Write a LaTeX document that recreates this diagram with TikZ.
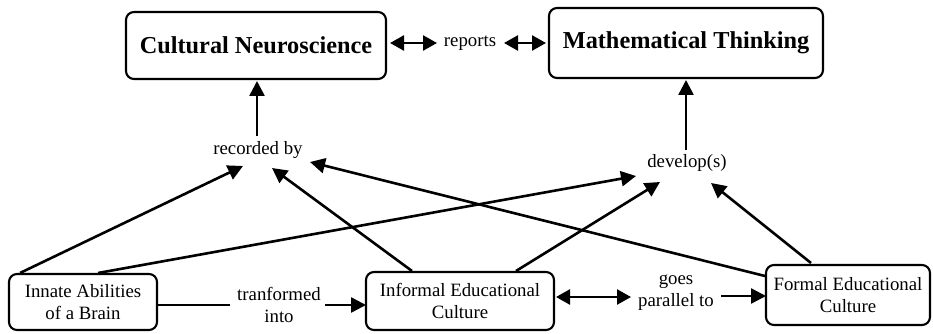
\documentclass[tikz,border=0pt]{standalone}
\usepackage{fontspec}
\setmainfont{Liberation Serif}
\usetikzlibrary{arrows.meta}
\tikzset{
  box/.style={draw, line width=2.1pt, rounded corners=8pt, align=center, inner sep=0pt},
  lbl/.style={align=center, inner sep=1pt, font=\fontsize{18.8}{21.5}\selectfont},
  arr/.style={line width=2.6pt, -{Triangle[length=15pt,width=15pt]}},
  darr/.style={line width=2.6pt, {Triangle[length=14pt,width=15pt]}-{Triangle[length=14pt,width=15pt]}},
  plain/.style={line width=2.6pt}
}
\begin{document}
\begin{tikzpicture}[x=1pt,y=-1pt]
\useasboundingbox (0,0) rectangle (933,334);
% main boxes
\node[box, minimum width=260pt, minimum height=67pt, font=\fontsize{24.3}{28}\selectfont\bfseries] (cn) at (256,45.5) {Cultural Neuroscience};
\node[box, minimum width=274pt, minimum height=70pt, font=\fontsize{24.3}{28}\selectfont\bfseries] (mt) at (686,43) {Mathematical Thinking};
\node[box, minimum width=148pt, minimum height=56pt, font=\fontsize{18.8}{21.5}\selectfont] (innate) at (83,302) {Innate Abilities\\of a Brain};
\node[box, minimum width=188pt, minimum height=58pt, font=\fontsize{18.8}{21.5}\selectfont] (informal) at (460,301) {Informal Educational\\Culture};
\node[box, minimum width=164pt, minimum height=60pt, font=\fontsize{18.8}{21.5}\selectfont] (formal) at (848,295) {Formal Educational\\Culture};
% linking phrases
\node[lbl] (reports) at (470,43) {reports};
\node[lbl] (rec) at (258,150) {recorded by};
\node[lbl] (dev) at (687,163) {develop(s)};
\node[lbl] (trans) at (279,305) {tranformed\\into};
\node[lbl] (par) at (676,292.5) {goes\\parallel to};
% coordinates
\coordinate (cnR) at (390,43);
\coordinate (repL) at (437,43);
\coordinate (repR) at (504,43);
\coordinate (mtL) at (546,43);
\coordinate (recTop) at (257,136);
\coordinate (cnBot) at (257,81);
\coordinate (devTop) at (686,150);
\coordinate (mtBot) at (686,80);
\coordinate (inA) at (20,273);
\coordinate (inB) at (98,273);
\coordinate (ifA) at (412,271);
\coordinate (ifB) at (516,271);
\coordinate (foA) at (765,276);
\coordinate (foB) at (811,263);
\coordinate (rt1) at (243,166);
\coordinate (rt2) at (272,168);
\coordinate (rt3) at (310,162);
\coordinate (dt1) at (636,176);
\coordinate (dt2) at (660,182);
\coordinate (dt3) at (711,183);
\coordinate (innR) at (157,305);
\coordinate (trL) at (230,305);
\coordinate (trR) at (325,305);
\coordinate (infL) at (366,305);
\coordinate (infR) at (556,297);
\coordinate (parL) at (631,297);
\coordinate (parR) at (721,296);
\coordinate (forL) at (766,296);
% connectors
\draw[darr] (cnR) -- (repL);
\draw[darr] (repR) -- (mtL);
\draw[arr] (recTop) -- (cnBot);
\draw[arr] (devTop) -- (mtBot);
\draw[arr] (inA) -- (rt1);
\draw[arr] (inB) -- (dt1);
\draw[arr] (ifA) -- (rt2);
\draw[arr] (ifB) -- (dt2);
\draw[arr] (foA) -- (rt3);
\draw[arr] (foB) -- (dt3);
\draw[plain] (innR) -- (trL);
\draw[arr] (trR) -- (infL);
\draw[darr] (infR) -- (parL);
\draw[arr] (parR) -- (forL);
\end{tikzpicture}
\end{document}
